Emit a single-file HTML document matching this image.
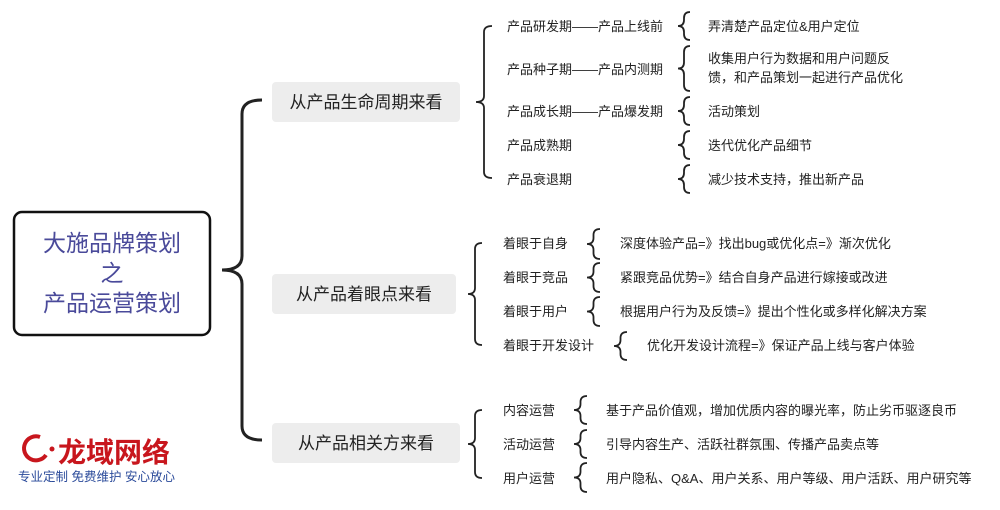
<!DOCTYPE html>
<html><head><meta charset="utf-8"><style>
body{margin:0;background:#fff;width:1000px;height:510px;overflow:hidden}
svg{display:block;font-family:"Liberation Sans","Noto Sans CJK SC",sans-serif}
.t{font-size:13px;fill:#222}
.b{font-size:17px;fill:#222}
</style></head><body>
<svg width="1000" height="510" id="s">
<rect x="14" y="212" width="196" height="123" rx="8" fill="#fff" stroke="#111" stroke-width="2.5"/>
<text x="112" y="251" text-anchor="middle" font-size="23" fill="#4a4a9a">大施品牌策划</text>
<text x="112" y="281" text-anchor="middle" font-size="23" fill="#4a4a9a">之</text>
<text x="112" y="311" text-anchor="middle" font-size="23" fill="#4a4a9a">产品运营策划</text>
<rect x="272" y="82" width="188" height="40" rx="4" fill="#ededed"/>
<text x="366" y="108" text-anchor="middle" class="b">从产品生命周期来看</text>
<rect x="272" y="274" width="184" height="40" rx="4" fill="#ededed"/>
<text x="364" y="300" text-anchor="middle" class="b">从产品着眼点来看</text>
<rect x="272" y="423" width="188" height="40" rx="4" fill="#ededed"/>
<text x="366" y="449" text-anchor="middle" class="b">从产品相关方来看</text>
<g id="br" fill="none" stroke="#222" stroke-width="1.8"></g>
<g class="t">
<text x="507" y="31" class="t">产品研发期——产品上线前</text>
<text x="507" y="74" class="t">产品种子期——产品内测期</text>
<text x="507" y="116" class="t">产品成长期——产品爆发期</text>
<text x="507" y="150" class="t">产品成熟期</text>
<text x="507" y="184" class="t">产品衰退期</text>
<text x="708" y="31" class="t">弄清楚产品定位&amp;用户定位</text>
<text x="708" y="63" class="t">收集用户行为数据和用户问题反</text>
<text x="708" y="82" class="t">馈，和产品策划一起进行产品优化</text>
<text x="708" y="116" class="t">活动策划</text>
<text x="708" y="150" class="t">迭代优化产品细节</text>
<text x="708" y="184" class="t">减少技术支持，推出新产品</text>
<text x="503" y="248" class="t">着眼于自身</text>
<text x="503" y="282" class="t">着眼于竞品</text>
<text x="503" y="316" class="t">着眼于用户</text>
<text x="503" y="350" class="t">着眼于开发设计</text>
<text x="620" y="248" class="t">深度体验产品=》找出bug或优化点=》渐次优化</text>
<text x="620" y="282" class="t">紧跟竞品优势=》结合自身产品进行嫁接或改进</text>
<text x="620" y="316" class="t">根据用户行为及反馈=》提出个性化或多样化解决方案</text>
<text x="647" y="350" class="t">优化开发设计流程=》保证产品上线与客户体验</text>
<text x="503" y="415" class="t">内容运营</text>
<text x="503" y="449" class="t">活动运营</text>
<text x="503" y="483" class="t">用户运营</text>
<text x="606" y="415" class="t">基于产品价值观，增加优质内容的曝光率，防止劣币驱逐良币</text>
<text x="606" y="449" class="t">引导内容生产、活跃社群氛围、传播产品卖点等</text>
<text x="606" y="483" class="t">用户隐私、Q&amp;A、用户关系、用户等级、用户活跃、用户研究等</text>
</g>
<path d="M40 437 A12 12 0 1 0 46 455" fill="none" stroke="#c8161d" stroke-width="4"/>
<circle cx="52" cy="449" r="2.5" fill="#c8161d"/>
<text x="58" y="462" font-size="28" font-weight="bold" fill="#c8161d">龙域网络</text>
<text x="18" y="481" font-size="12.5" fill="#2a4a9a">专业定制 免费维护 安心放心</text>
</svg>
<script>
function B(xt,xr,y1,y2,r,w){var xm=(xt+xr)/2,ym=(y1+y2)/2;
var d="M"+xr+" "+y1+" Q"+xm+" "+y1+" "+xm+" "+(y1+r)+" L"+xm+" "+(ym-r)+" Q"+xm+" "+ym+" "+xt+" "+ym+" Q"+xm+" "+ym+" "+xm+" "+(ym+r)+" L"+xm+" "+(y2-r)+" Q"+xm+" "+y2+" "+xr+" "+y2;
var p=document.createElementNS("http://www.w3.org/2000/svg","path");p.setAttribute("d",d);if(w)p.setAttribute("stroke-width",w);document.getElementById("br").appendChild(p);}
B(222,262,100,440,14,3);
B(476,492,26,178,6);
B(678,690,12,40,6);B(678,690,46,91,6);B(678,690,97,125,6);B(678,690,131,159,6);B(678,690,165,193,6);
B(468,482,243,345,6);
B(587,600,229,259,6);B(587,600,263,292,6);B(587,600,297,326,6);B(614,627,332,360,6);
B(468,482,410,478,6);
B(574,587,396,424,6);B(574,587,430,458,6);B(574,587,463,492,6);
</script>
</body></html>
